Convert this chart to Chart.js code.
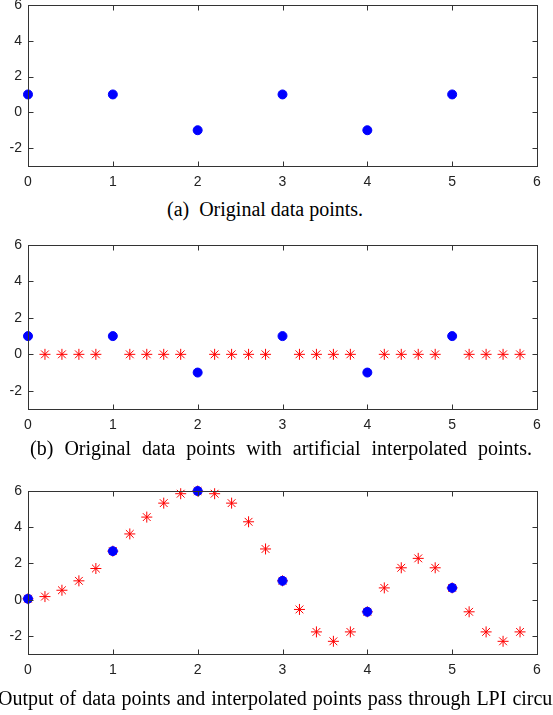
<!DOCTYPE html>
<html>
<head>
<meta charset="utf-8">
<script src="https://cdn.jsdelivr.net/npm/chart.js@4"></script>
<style>
  html, body { margin: 0; padding: 0; background: #fff; overflow: hidden; }
  body { position: relative; width: 553px; height: 715px; }
  canvas { position: absolute; left: 0; }
  .cap { position: absolute; left: 0; white-space: nowrap; font-family: "Liberation Serif", "DejaVu Serif", serif;
         font-size: 20px; color: #000; transform: translate(-50%, -50%); }
  .cap-left { transform: translate(0, -50%); }
  .cap-pre { position: absolute; right: 100%; padding-right: 6px; }
</style>
</head>
<body>
<canvas id="plot-a" width="553" height="211" style="top:-15px"></canvas>
<div class="cap" style="left:265px; top:209px">(a)&nbsp;&nbsp;Original data points.</div>
<canvas id="plot-b" width="553" height="214" style="top:225px"></canvas>
<div class="cap" style="left:281px; top:448px; word-spacing:6px">(b) Original data points with artificial interpolated points.</div>
<canvas id="plot-c" width="553" height="213" style="top:471px"></canvas>
<div class="cap cap-left" style="left:-2px; top:698px; word-spacing:1px"><span class="cap-pre">(c)</span>Output of data points and interpolated points pass through LPI circuit.</div>

<script>
// 元のデータ点
const xOrig = [0, 1, 2, 3, 4, 5];
const yOrig = [1, 1, -1, 1, -1, 1];

// 人工的な補間点（ゼロ）
const xInterp = [0.2, 0.4, 0.6, 0.8, 1.2, 1.4, 1.6, 1.8, 2.2, 2.4, 2.6, 2.8,
                 3.2, 3.4, 3.6, 3.8, 4.2, 4.4, 4.6, 4.8, 5.2, 5.4, 5.6, 5.8];
const yInterp = [0, 0, 0, 0, 0, 0, 0, 0, 0, 0, 0, 0,
                 0, 0, 0, 0, 0, 0, 0, 0, 0, 0, 0, 0];

// LPI回路の出力
const xAll = [0, 0.2, 0.4, 0.6, 0.8, 1, 1.2, 1.4, 1.6, 1.8, 2, 2.2, 2.4, 2.6, 2.8,
              3, 3.2, 3.4, 3.6, 3.8, 4, 4.2, 4.4, 4.6, 4.8, 5, 5.2, 5.4, 5.6, 5.8];
const yLpi = [0.05, 0.17, 0.52, 1.04, 1.72, 2.68, 3.63, 4.56, 5.33, 5.85, 6.0, 5.85, 5.33, 4.3, 2.8,
              1.04, -0.54, -1.78, -2.3, -1.78, -0.67, 0.65, 1.76, 2.28, 1.76, 0.65, -0.67, -1.78, -2.3, -1.78];
const yLpiOrig = [0.05, 2.68, 6.0, 1.04, -0.67, 0.65];

// 軸の目盛り
const xTicks = [0, 1, 2, 3, 4, 5, 6];
const yTicks = [-2, 0, 2, 4, 6];
const xMin = 0, xMax = 6, yMin = -3, yMax = 6;

function toPoints(xs, ys) {
  return xs.map(function(x, i) { return { x: x, y: ys[i] }; });
}

function blueSet(xs, ys) {
  return {
    data: toPoints(xs, ys),
    pointStyle: 'circle',
    pointRadius: 4.5,
    backgroundColor: '#0000ff',
    borderColor: '#0000ff',
    borderWidth: 1,
    showLine: false,
    clip: false
  };
}

function redSet(xs, ys) {
  return {
    data: toPoints(xs, ys),
    pointStyle: 'star',
    pointRadius: 5.5,
    backgroundColor: '#ff0000',
    borderColor: '#ff0000',
    borderWidth: 1,
    showLine: false,
    clip: false
  };
}

// MATLAB風の枠と内向きの目盛り
const framePlugin = {
  id: 'frame',
  afterDraw: function(chart) {
    const ctx = chart.ctx;
    const a = chart.chartArea;
    const sx = chart.scales.x, sy = chart.scales.y;
    const L = Math.round(a.left) + 0.5, R = Math.round(a.right) + 0.5;
    const T = Math.round(a.top) + 0.5, B = Math.round(a.bottom) + 0.5;
    const len = 5;
    ctx.save();
    ctx.strokeStyle = '#333';
    ctx.lineWidth = 1;
    ctx.strokeRect(L, T, R - L, B - T);
    ctx.beginPath();
    xTicks.forEach(function(v) {
      if (v <= xMin || v >= xMax) return;
      const px = Math.round(sx.getPixelForValue(v)) + 0.5;
      ctx.moveTo(px, B); ctx.lineTo(px, B - len);
      ctx.moveTo(px, T); ctx.lineTo(px, T + len);
    });
    yTicks.forEach(function(v) {
      if (v <= yMin || v >= yMax) return;
      const py = Math.round(sy.getPixelForValue(v)) + 0.5;
      ctx.moveTo(L, py); ctx.lineTo(L + len, py);
      ctx.moveTo(R, py); ctx.lineTo(R - len, py);
    });
    ctx.stroke();
    ctx.restore();
  }
};

const tickFont = { family: '"Liberation Sans", Arial, sans-serif', size: 14 };

function makePlot(id, datasets) {
  new Chart(document.getElementById(id), {
    type: 'scatter',
    data: { datasets: datasets },
    options: {
      responsive: false,
      animation: false,
      events: [],
      layout: { padding: { top: 20, right: 16, left: 0, bottom: 0 } },
      plugins: { legend: { display: false }, tooltip: { enabled: false } },
      scales: {
        x: {
          type: 'linear', min: xMin, max: xMax,
          grid: { display: false, drawTicks: false },
          border: { display: false },
          afterBuildTicks: function(s) { s.ticks = xTicks.map(function(v) { return { value: v }; }); },
          afterFit: function(s) { s.height = 30; },
          ticks: { font: tickFont, color: '#222', padding: 8, maxRotation: 0 }
        },
        y: {
          type: 'linear', min: yMin, max: yMax,
          grid: { display: false, drawTicks: false },
          border: { display: false },
          afterBuildTicks: function(s) { s.ticks = yTicks.map(function(v) { return { value: v }; }); },
          afterFit: function(s) { s.width = 28; },
          ticks: { font: tickFont, color: '#222', padding: 6 }
        }
      }
    },
    plugins: [framePlugin]
  });
}

document.addEventListener('DOMContentLoaded', function() {
  makePlot('plot-a', [blueSet(xOrig, yOrig)]);
  makePlot('plot-b', [blueSet(xOrig, yOrig), redSet(xInterp, yInterp)]);
  makePlot('plot-c', [blueSet(xOrig, yLpiOrig), redSet(xAll, yLpi)]);
});
</script>
</body>
</html>
